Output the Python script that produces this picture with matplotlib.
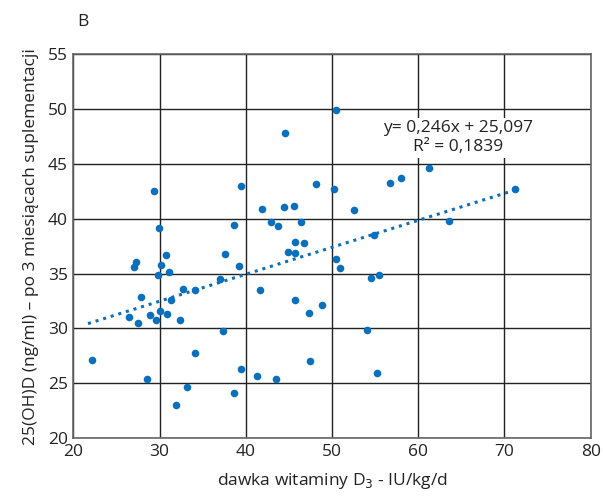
import matplotlib
matplotlib.use("Agg")
import matplotlib.pyplot as plt
import numpy as np

plt.rcParams['font.family'] = ['Open Sans', 'DejaVu Sans']

dose = [50.5, 44.6, 29.3, 39.4, 48.2, 50.2, 41.9, 44.4, 45.6, 29.9, 38.6, 42.9, 43.7, 46.4,
        45.7, 46.7, 61.2, 56.7, 58.0, 52.6, 71.2, 63.6, 54.9, 37.6, 30.7, 27.3, 27.0, 30.2,
        29.8, 31.1, 39.2, 37.0, 44.85, 45.7, 50.5, 50.9, 27.8, 32.7, 34.1, 41.6, 31.3, 45.7,
        48.8, 47.3, 26.4, 28.95, 30.1, 30.9, 27.5, 29.55, 32.4, 37.3, 22.2, 34.15, 47.4, 39.5,
        41.3, 43.5, 28.5, 33.2, 38.6, 31.9, 54.5, 55.5, 54.0, 55.2]
level = [49.9, 47.8, 42.5, 43.0, 43.2, 42.7, 40.9, 41.1, 41.2, 39.2, 39.4, 39.7, 39.3, 39.7,
         37.9, 37.8, 44.6, 43.3, 43.7, 40.8, 42.7, 39.8, 38.5, 36.8, 36.7, 36.05, 35.6, 35.8,
         34.9, 35.1, 35.7, 34.5, 37.0, 36.9, 36.3, 35.5, 32.9, 33.6, 33.5, 33.5, 32.6, 32.6,
         32.1, 31.4, 31.0, 31.25, 31.6, 31.3, 30.5, 30.75, 30.75, 29.8, 27.1, 27.75, 27.0, 26.3,
         25.7, 25.4, 25.4, 24.65, 24.1, 23.0, 34.6, 34.85, 29.85, 25.9]

slope = 0.246
intercept = 25.097
trend_x = [21.7, 71.2]
xticks = [20, 30, 40, 50, 60, 70, 80]
yticks = [20, 25, 30, 35, 40, 45, 50, 55]

blue = '#0a6fbd'

fig = plt.figure(figsize=(6.03, 4.97), dpi=100)
ax = fig.add_axes([0.1216, 0.1187, 0.858, 0.772])

tx = np.array(trend_x)
ax.plot(tx, slope * tx + intercept, linestyle=(0, (1, 1.6)), color=blue, lw=2.2, zorder=3)
ax.scatter(dose, level, s=30, color=blue, zorder=4, linewidths=0)

ax.set_xlim(20, 80)
ax.set_ylim(20, 55)
ax.set_xticks(xticks)
ax.set_yticks(yticks)
ax.grid(True, color='#222222', lw=1.0)
ax.set_axisbelow(True)
for s in ax.spines.values():
    s.set_color('#666666')
    s.set_linewidth(1.2)
ax.tick_params(length=0, labelsize=12.5, pad=4, colors='#222222')

ax.text(64.6, 47.4, "y= 0,246x + 25,097\nR² = 0,1839", ha='center', va='center',
        fontsize=12.5, color='#222222', linespacing=1.2,
        bbox=dict(facecolor='white', edgecolor='none', pad=2), zorder=5)

ax.set_xlabel("dawka witaminy D$_3$ - IU/kg/d", fontsize=12.5, color='#222222', labelpad=8)
ax.set_ylabel("25(OH)D (ng/ml) – po 3 miesiącach suplementacji", fontsize=12.5,
              color='#222222', labelpad=6)
fig.text(0.128, 0.955, "B", fontsize=12.5, color='#222222', ha='left', va='center')

fig.savefig("out.png", dpi=100)
